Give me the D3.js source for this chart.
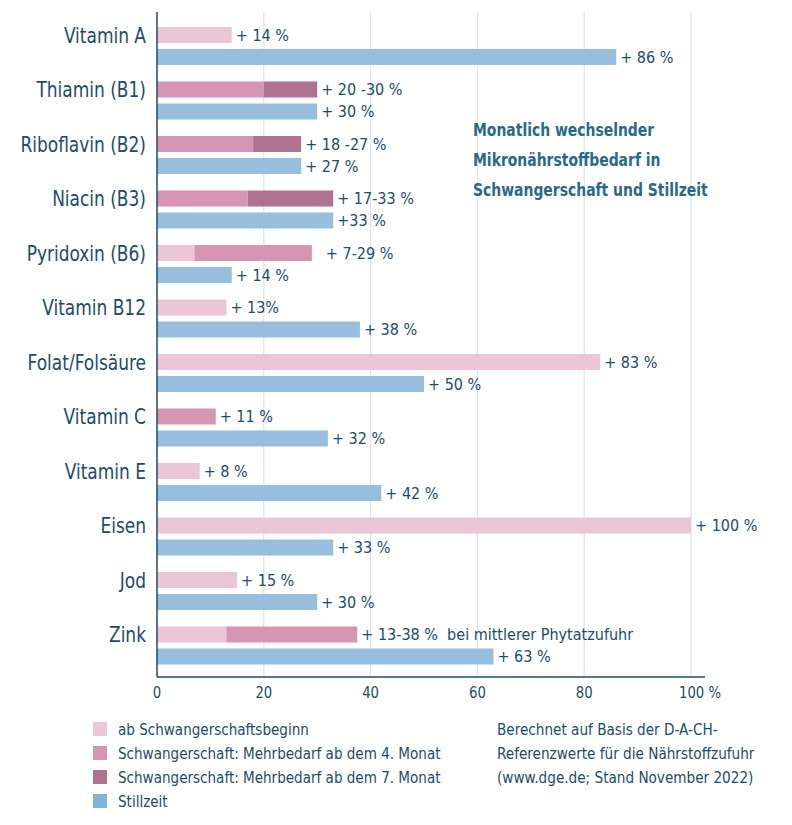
<!DOCTYPE html>
<html>
<head>
<meta charset="utf-8">
<script src="https://cdn.jsdelivr.net/npm/d3@7"></script>
<style>
  body { margin: 0; background: #fff; }
  svg text { font-family: "DejaVu Sans Condensed", "DejaVu Sans", sans-serif; font-stretch: condensed; fill: #1d4b6b; }
</style>
</head>
<body>
<div id="chart"></div>
<script>
// Mehrbedarf an Mikronährstoffen – Schwangerschaft / Stillzeit
const categories = ["Vitamin A", "Thiamin (B1)", "Riboflavin (B2)", "Niacin (B3)", "Pyridoxin (B6)",
  "Vitamin B12", "Folat/Folsäure", "Vitamin C", "Vitamin E", "Eisen", "Jod", "Zink"];

// Schwangerschaft, gestapelt (Zuwachs je Phase in %)
const abBeginn  = [14, 0, 0, 0, 7, 13, 83, 0, 8, 100, 15, 13];
const abMonat4  = [0, 20, 18, 17, 22, 0, 0, 11, 0, 0, 0, 24.5];
const abMonat7  = [0, 10, 9, 16, 0, 0, 0, 0, 0, 0, 0, 0];
// Stillzeit
const stillzeit = [86, 30, 27, 33, 14, 38, 50, 32, 42, 33, 30, 63];

const pregLabels = ["+ 14 %", "+ 20 -30 %", "+ 18 -27 %", "+ 17-33 %", "+ 7-29 %", "+ 13%", "+ 83 %",
  "+ 11 %", "+ 8 %", "+ 100 %", "+ 15 %", "+ 13-38 %  bei mittlerer Phytatzufuhr"];
const stillLabels = ["+ 86 %", "+ 30 %", "+ 27 %", "+33 %", "+ 14 %", "+ 38 %", "+ 50 %",
  "+ 32 %", "+ 42 %", "+ 33 %", "+ 30 %", "+ 63 %"];

const xTicks = [0, 20, 40, 60, 80, 100];
const phases = ["beginn", "m4", "m7"];
const legendItems = ["ab Schwangerschaftsbeginn", "Schwangerschaft: Mehrbedarf ab dem 4. Monat",
  "Schwangerschaft: Mehrbedarf ab dem 7. Monat", "Stillzeit"];
const titleLines = ["Monatlich wechselnder", "Mikronährstoffbedarf in", "Schwangerschaft und Stillzeit"];
const noteLines = ["Berechnet auf Basis der D-A-CH-", "Referenzwerte für die Nährstoffzufuhr",
  "(www.dge.de; Stand November 2022)"];

const phaseColor = { beginn: "#eac6d6", m4: "#d695b3", m7: "#b0738f" };
const blue = "#97bede";
const legendColors = ["#eac6d6", "#d695b3", "#b0738f", "#80b3da"];
const ink = "#1d4b6b";

// Schrift etwas schmaler laufen lassen (Original ist eine Condensed-Schrift)
function condense(sel, k) {
  sel.each(function () {
    const w = this.getComputedTextLength();
    if (w > 0) d3.select(this).attr("textLength", w * k).attr("lengthAdjust", "spacingAndGlyphs");
  });
}

const width = 792, height = 825;
const svg = d3.select("#chart").append("svg").attr("width", width).attr("height", height);

const x = d3.scaleLinear().domain([0, 100]).range([157, 691]);
const y = d3.scaleBand().domain(categories).range([18, 672]).paddingInner(0);
const barH = 16;
const axisY = 677;

// Gitterlinien
svg.append("g").selectAll("line")
  .data(xTicks.slice(1)).join("line")
  .attr("x1", d => x(d)).attr("x2", d => x(d))
  .attr("y1", 12).attr("y2", axisY)
  .attr("stroke", "#dbe4ec").attr("stroke-width", 1.2);

// gestapelte Schwangerschafts-Balken
const rows = categories.map((c, i) => ({ cat: c, beginn: abBeginn[i], m4: abMonat4[i], m7: abMonat7[i] }));
const stacked = d3.stack().keys(phases)(rows);

svg.append("g").selectAll("g")
  .data(stacked).join("g")
  .attr("fill", s => phaseColor[s.key])
  .selectAll("rect")
  .data(s => s.filter(d => d[1] > d[0])).join("rect")
  .attr("x", d => x(d[0]))
  .attr("y", d => y(d.data.cat) + 9)
  .attr("width", d => x(d[1]) - x(d[0]))
  .attr("height", barH);

// Stillzeit-Balken
svg.append("g").selectAll("rect")
  .data(categories).join("rect")
  .attr("x", x(0))
  .attr("y", d => y(d) + 31)
  .attr("width", (d, i) => x(stillzeit[i]) - x(0))
  .attr("height", barH)
  .attr("fill", blue);

// Wertebeschriftungen
const pregTotal = categories.map((c, i) => abBeginn[i] + abMonat4[i] + abMonat7[i]);
svg.append("g").selectAll("text")
  .data(categories).join("text")
  .attr("x", (d, i) => x(pregTotal[i]) + (i === 4 ? 14 : 4))
  .attr("y", d => y(d) + 17)
  .attr("dy", "0.36em")
  .attr("font-size", 16.5)
  .attr("xml:space", "preserve")
  .style("white-space", "pre")
  .text((d, i) => pregLabels[i])
  .call(condense, 0.97);

svg.append("g").selectAll("text")
  .data(categories).join("text")
  .attr("x", (d, i) => x(stillzeit[i]) + 4)
  .attr("y", d => y(d) + 39)
  .attr("dy", "0.36em")
  .attr("font-size", 16.5)
  .text((d, i) => stillLabels[i])
  .call(condense, 0.97);

// Kategorien
svg.append("g").selectAll("text")
  .data(categories).join("text")
  .attr("x", 146)
  .attr("y", d => y(d) + 17)
  .attr("dy", "0.36em")
  .attr("text-anchor", "end")
  .attr("font-size", 21)
  .text(d => d)
  .call(condense, 0.9);

// Achsen
svg.append("line").attr("x1", x(0)).attr("x2", x(0)).attr("y1", 12).attr("y2", axisY)
  .attr("stroke", ink).attr("stroke-width", 1.5);
svg.append("line").attr("x1", x(0)).attr("x2", 705).attr("y1", axisY).attr("y2", axisY)
  .attr("stroke", ink).attr("stroke-width", 1.5);

svg.append("g").selectAll("text")
  .data(xTicks).join("text")
  .attr("x", d => x(d) + (d === 100 ? 9 : 0))
  .attr("y", 692)
  .attr("dy", "0.36em")
  .attr("text-anchor", "middle")
  .attr("font-size", 16)
  .text(d => d === 100 ? "100 %" : d)
  .call(condense, 0.92);

// Titel
svg.append("g").selectAll("text")
  .data(titleLines).join("text")
  .attr("x", 473)
  .attr("y", (d, i) => 130 + i * 30)
  .attr("dy", "0.36em")
  .attr("font-size", 18)
  .attr("font-weight", "bold")
  .style("fill", "#28698b")
  .text(d => d)
  .call(condense, 0.86);

// Legende
const legend = svg.append("g").selectAll("g")
  .data(legendItems).join("g")
  .attr("transform", (d, i) => `translate(93, ${729 + i * 24})`);
legend.append("rect").attr("x", 0).attr("y", -7).attr("width", 14).attr("height", 14)
  .attr("fill", (d, i) => legendColors[i]);
legend.append("text").attr("x", 25).attr("dy", "0.36em").attr("font-size", 16).text(d => d)
  .call(condense, 0.94);

// Quellenangabe
svg.append("g").selectAll("text")
  .data(noteLines).join("text")
  .attr("x", 497)
  .attr("y", (d, i) => 729 + i * 24)
  .attr("dy", "0.36em")
  .attr("font-size", 16)
  .text(d => d)
  .call(condense, 0.945);
</script>
</body>
</html>
